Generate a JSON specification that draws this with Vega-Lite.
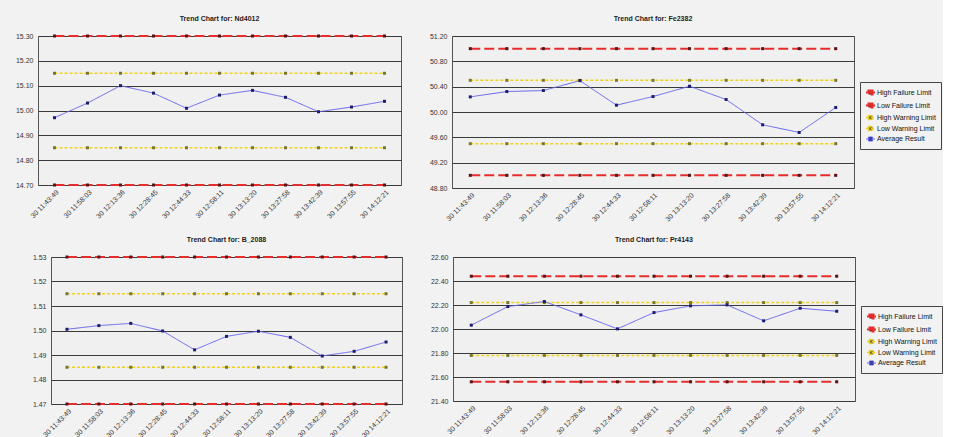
{
  "$schema": "https://vega.github.io/schema/vega-lite/v6.json",
  "background": "#f2f2f2",
  "padding": {"left": 1, "top": 14, "right": 0, "bottom": 0},
  "datasets": {
    "trend": [
      {"chart": "Nd4012", "time": "30 11:43:49", "High Failure Limit": 15.3, "Low Failure Limit": 14.7, "High Warning Limit": 15.15, "Low Warning Limit": 14.85, "Average Result": 14.971},
      {"chart": "Nd4012", "time": "30 11:58:03", "High Failure Limit": 15.3, "Low Failure Limit": 14.7, "High Warning Limit": 15.15, "Low Warning Limit": 14.85, "Average Result": 15.03},
      {"chart": "Nd4012", "time": "30 12:13:36", "High Failure Limit": 15.3, "Low Failure Limit": 14.7, "High Warning Limit": 15.15, "Low Warning Limit": 14.85, "Average Result": 15.1},
      {"chart": "Nd4012", "time": "30 12:28:45", "High Failure Limit": 15.3, "Low Failure Limit": 14.7, "High Warning Limit": 15.15, "Low Warning Limit": 14.85, "Average Result": 15.07},
      {"chart": "Nd4012", "time": "30 12:44:33", "High Failure Limit": 15.3, "Low Failure Limit": 14.7, "High Warning Limit": 15.15, "Low Warning Limit": 14.85, "Average Result": 15.009},
      {"chart": "Nd4012", "time": "30 12:58:11", "High Failure Limit": 15.3, "Low Failure Limit": 14.7, "High Warning Limit": 15.15, "Low Warning Limit": 14.85, "Average Result": 15.062},
      {"chart": "Nd4012", "time": "30 13:13:20", "High Failure Limit": 15.3, "Low Failure Limit": 14.7, "High Warning Limit": 15.15, "Low Warning Limit": 14.85, "Average Result": 15.081},
      {"chart": "Nd4012", "time": "30 13:27:58", "High Failure Limit": 15.3, "Low Failure Limit": 14.7, "High Warning Limit": 15.15, "Low Warning Limit": 14.85, "Average Result": 15.053},
      {"chart": "Nd4012", "time": "30 13:42:39", "High Failure Limit": 15.3, "Low Failure Limit": 14.7, "High Warning Limit": 15.15, "Low Warning Limit": 14.85, "Average Result": 14.995},
      {"chart": "Nd4012", "time": "30 13:57:55", "High Failure Limit": 15.3, "Low Failure Limit": 14.7, "High Warning Limit": 15.15, "Low Warning Limit": 14.85, "Average Result": 15.014},
      {"chart": "Nd4012", "time": "30 14:12:21", "High Failure Limit": 15.3, "Low Failure Limit": 14.7, "High Warning Limit": 15.15, "Low Warning Limit": 14.85, "Average Result": 15.037},
      {"chart": "Fe2382", "time": "30 11:43:49", "High Failure Limit": 51.0, "Low Failure Limit": 49.0, "High Warning Limit": 50.5, "Low Warning Limit": 49.5, "Average Result": 50.239},
      {"chart": "Fe2382", "time": "30 11:58:03", "High Failure Limit": 51.0, "Low Failure Limit": 49.0, "High Warning Limit": 50.5, "Low Warning Limit": 49.5, "Average Result": 50.323},
      {"chart": "Fe2382", "time": "30 12:13:36", "High Failure Limit": 51.0, "Low Failure Limit": 49.0, "High Warning Limit": 50.5, "Low Warning Limit": 49.5, "Average Result": 50.339},
      {"chart": "Fe2382", "time": "30 12:28:45", "High Failure Limit": 51.0, "Low Failure Limit": 49.0, "High Warning Limit": 50.5, "Low Warning Limit": 49.5, "Average Result": 50.495},
      {"chart": "Fe2382", "time": "30 12:44:33", "High Failure Limit": 51.0, "Low Failure Limit": 49.0, "High Warning Limit": 50.5, "Low Warning Limit": 49.5, "Average Result": 50.108},
      {"chart": "Fe2382", "time": "30 12:58:11", "High Failure Limit": 51.0, "Low Failure Limit": 49.0, "High Warning Limit": 50.5, "Low Warning Limit": 49.5, "Average Result": 50.244},
      {"chart": "Fe2382", "time": "30 13:13:20", "High Failure Limit": 51.0, "Low Failure Limit": 49.0, "High Warning Limit": 50.5, "Low Warning Limit": 49.5, "Average Result": 50.407},
      {"chart": "Fe2382", "time": "30 13:27:58", "High Failure Limit": 51.0, "Low Failure Limit": 49.0, "High Warning Limit": 50.5, "Low Warning Limit": 49.5, "Average Result": 50.197},
      {"chart": "Fe2382", "time": "30 13:42:39", "High Failure Limit": 51.0, "Low Failure Limit": 49.0, "High Warning Limit": 50.5, "Low Warning Limit": 49.5, "Average Result": 49.798},
      {"chart": "Fe2382", "time": "30 13:57:55", "High Failure Limit": 51.0, "Low Failure Limit": 49.0, "High Warning Limit": 50.5, "Low Warning Limit": 49.5, "Average Result": 49.677},
      {"chart": "Fe2382", "time": "30 14:12:21", "High Failure Limit": 51.0, "Low Failure Limit": 49.0, "High Warning Limit": 50.5, "Low Warning Limit": 49.5, "Average Result": 50.071},
      {"chart": "B_2088", "time": "30 11:43:49", "High Failure Limit": 1.53, "Low Failure Limit": 1.47, "High Warning Limit": 1.515, "Low Warning Limit": 1.485, "Average Result": 1.5005},
      {"chart": "B_2088", "time": "30 11:58:03", "High Failure Limit": 1.53, "Low Failure Limit": 1.47, "High Warning Limit": 1.515, "Low Warning Limit": 1.485, "Average Result": 1.502},
      {"chart": "B_2088", "time": "30 12:13:36", "High Failure Limit": 1.53, "Low Failure Limit": 1.47, "High Warning Limit": 1.515, "Low Warning Limit": 1.485, "Average Result": 1.5029},
      {"chart": "B_2088", "time": "30 12:28:45", "High Failure Limit": 1.53, "Low Failure Limit": 1.47, "High Warning Limit": 1.515, "Low Warning Limit": 1.485, "Average Result": 1.4998},
      {"chart": "B_2088", "time": "30 12:44:33", "High Failure Limit": 1.53, "Low Failure Limit": 1.47, "High Warning Limit": 1.515, "Low Warning Limit": 1.485, "Average Result": 1.4921},
      {"chart": "B_2088", "time": "30 12:58:11", "High Failure Limit": 1.53, "Low Failure Limit": 1.47, "High Warning Limit": 1.515, "Low Warning Limit": 1.485, "Average Result": 1.4976},
      {"chart": "B_2088", "time": "30 13:13:20", "High Failure Limit": 1.53, "Low Failure Limit": 1.47, "High Warning Limit": 1.515, "Low Warning Limit": 1.485, "Average Result": 1.4997},
      {"chart": "B_2088", "time": "30 13:27:58", "High Failure Limit": 1.53, "Low Failure Limit": 1.47, "High Warning Limit": 1.515, "Low Warning Limit": 1.485, "Average Result": 1.4972},
      {"chart": "B_2088", "time": "30 13:42:39", "High Failure Limit": 1.53, "Low Failure Limit": 1.47, "High Warning Limit": 1.515, "Low Warning Limit": 1.485, "Average Result": 1.4896},
      {"chart": "B_2088", "time": "30 13:57:55", "High Failure Limit": 1.53, "Low Failure Limit": 1.47, "High Warning Limit": 1.515, "Low Warning Limit": 1.485, "Average Result": 1.4915},
      {"chart": "B_2088", "time": "30 14:12:21", "High Failure Limit": 1.53, "Low Failure Limit": 1.47, "High Warning Limit": 1.515, "Low Warning Limit": 1.485, "Average Result": 1.4953},
      {"chart": "Pr4143", "time": "30 11:43:49", "High Failure Limit": 22.44, "Low Failure Limit": 21.56, "High Warning Limit": 22.22, "Low Warning Limit": 21.78, "Average Result": 22.032},
      {"chart": "Pr4143", "time": "30 11:58:03", "High Failure Limit": 22.44, "Low Failure Limit": 21.56, "High Warning Limit": 22.22, "Low Warning Limit": 21.78, "Average Result": 22.187},
      {"chart": "Pr4143", "time": "30 12:13:36", "High Failure Limit": 22.44, "Low Failure Limit": 21.56, "High Warning Limit": 22.22, "Low Warning Limit": 21.78, "Average Result": 22.229},
      {"chart": "Pr4143", "time": "30 12:28:45", "High Failure Limit": 22.44, "Low Failure Limit": 21.56, "High Warning Limit": 22.22, "Low Warning Limit": 21.78, "Average Result": 22.118},
      {"chart": "Pr4143", "time": "30 12:44:33", "High Failure Limit": 22.44, "Low Failure Limit": 21.56, "High Warning Limit": 22.22, "Low Warning Limit": 21.78, "Average Result": 22.001},
      {"chart": "Pr4143", "time": "30 12:58:11", "High Failure Limit": 22.44, "Low Failure Limit": 21.56, "High Warning Limit": 22.22, "Low Warning Limit": 21.78, "Average Result": 22.137},
      {"chart": "Pr4143", "time": "30 13:13:20", "High Failure Limit": 22.44, "Low Failure Limit": 21.56, "High Warning Limit": 22.22, "Low Warning Limit": 21.78, "Average Result": 22.193},
      {"chart": "Pr4143", "time": "30 13:27:58", "High Failure Limit": 22.44, "Low Failure Limit": 21.56, "High Warning Limit": 22.22, "Low Warning Limit": 21.78, "Average Result": 22.201},
      {"chart": "Pr4143", "time": "30 13:42:39", "High Failure Limit": 22.44, "Low Failure Limit": 21.56, "High Warning Limit": 22.22, "Low Warning Limit": 21.78, "Average Result": 22.068},
      {"chart": "Pr4143", "time": "30 13:57:55", "High Failure Limit": 22.44, "Low Failure Limit": 21.56, "High Warning Limit": 22.22, "Low Warning Limit": 21.78, "Average Result": 22.173},
      {"chart": "Pr4143", "time": "30 14:12:21", "High Failure Limit": 22.44, "Low Failure Limit": 21.56, "High Warning Limit": 22.22, "Low Warning Limit": 21.78, "Average Result": 22.148}
    ]
  },
  "resolve": {"scale": {"color": "shared"}, "legend": {"color": "independent", "fill": "independent", "strokeDash": "independent", "strokeWidth": "independent"}},
  "spacing": 12,
  "vconcat": [
    {
      "spacing": 25,
      "resolve": {"scale": {"color": "shared"}, "legend": {"color": "independent", "fill": "independent", "strokeDash": "independent", "strokeWidth": "independent"}},
      "hconcat": [
        {
          "data": {"name": "trend"},
          "title": "Trend Chart for: Nd4012",
          "width": 363, "height": 149,
          "transform": [
            {"filter": "datum.chart === 'Nd4012'"},
            {"fold": ["High Failure Limit", "Low Failure Limit", "High Warning Limit", "Low Warning Limit", "Average Result"], "as": ["series", "value"]}
          ],
          "encoding": {
            "x": {"field": "time", "type": "ordinal", "scale": {"type": "point", "padding": 0.5}, "axis": {"title": null}},
            "y": {"field": "value", "type": "quantitative", "scale": {"domain": [14.7, 15.3], "zero": false, "nice": false}, "axis": {"title": null, "values": [14.7, 14.8, 14.9, 15.0, 15.1, 15.2, 15.3], "format": ".2f", "minExtent": 36, "maxExtent": 36}}
          },
          "layer": [
            {
              "mark": {"type": "line"},
              "encoding": {
                "color": {"field": "series", "type": "nominal", "scale": {"domain": ["High Failure Limit", "Low Failure Limit", "High Warning Limit", "Low Warning Limit", "Average Result"], "range": ["#e52d2d", "#e52d2d", "#f0d21c", "#f0d21c", "#6666ec"]}, "legend": null},
                "strokeDash": {"field": "series", "type": "nominal", "scale": {"domain": ["High Failure Limit", "Low Failure Limit", "High Warning Limit", "Low Warning Limit", "Average Result"], "range": [[10, 4], [10, 4], [3, 2], [3, 2], [1, 0]]}, "legend": null},
                "strokeWidth": {"field": "series", "type": "nominal", "scale": {"type": "ordinal", "domain": ["High Failure Limit", "Low Failure Limit", "High Warning Limit", "Low Warning Limit", "Average Result"], "range": [2, 2, 1.5, 1.5, 1]}, "legend": null}
              }
            },
            {
              "mark": {"type": "square", "size": 9, "opacity": 1},
              "encoding": {
                "fill": {"field": "series", "type": "nominal", "scale": {"domain": ["High Failure Limit", "Low Failure Limit", "High Warning Limit", "Low Warning Limit", "Average Result"], "range": ["#5a1212", "#5a1212", "#77772c", "#77772c", "#1c1c72"]}, "legend": null}
              }
            }
          ]
        },
        {
          "data": {"name": "trend"},
          "title": "Trend Chart for: Fe2382",
          "width": 402, "height": 152,
          "transform": [
            {"filter": "datum.chart === 'Fe2382'"},
            {"fold": ["High Failure Limit", "Low Failure Limit", "High Warning Limit", "Low Warning Limit", "Average Result"], "as": ["series", "value"]}
          ],
          "encoding": {
            "x": {"field": "time", "type": "ordinal", "scale": {"type": "point", "padding": 0.5}, "axis": {"title": null}},
            "y": {"field": "value", "type": "quantitative", "scale": {"domain": [48.8, 51.2], "zero": false, "nice": false}, "axis": {"title": null, "values": [48.8, 49.2, 49.6, 50.0, 50.4, 50.8, 51.2], "format": ".2f", "minExtent": 24, "maxExtent": 24}}
          },
          "layer": [
            {
              "mark": {"type": "line"},
              "encoding": {
                "color": {"field": "series", "type": "nominal", "title": null, "scale": {"domain": ["High Failure Limit", "Low Failure Limit", "High Warning Limit", "Low Warning Limit", "Average Result"], "range": ["#e52d2d", "#e52d2d", "#f0d21c", "#f0d21c", "#6666ec"]},
                  "legend": {"title": null, "legendX": 408, "legendY": 46, "encode": {"symbols": {"update": {"fill": [{"test": "indexof(datum.value, 'Failure') >= 0", "value": "#ee1111"}, {"test": "indexof(datum.value, 'Warning') >= 0", "value": "#f2d000"}, {"value": "#0000ee"}], "opacity": {"value": 1}}}}}},
                "strokeDash": {"field": "series", "type": "nominal", "scale": {"domain": ["High Failure Limit", "Low Failure Limit", "High Warning Limit", "Low Warning Limit", "Average Result"], "range": [[10, 4], [10, 4], [3, 2], [3, 2], [1, 0]]}, "legend": null},
                "strokeWidth": {"field": "series", "type": "nominal", "scale": {"type": "ordinal", "domain": ["High Failure Limit", "Low Failure Limit", "High Warning Limit", "Low Warning Limit", "Average Result"], "range": [2, 2, 1.5, 1.5, 1]}, "legend": null}
              }
            },
            {
              "mark": {"type": "square", "size": 9, "opacity": 1},
              "encoding": {
                "fill": {"field": "series", "type": "nominal", "scale": {"domain": ["High Failure Limit", "Low Failure Limit", "High Warning Limit", "Low Warning Limit", "Average Result"], "range": ["#5a1212", "#5a1212", "#77772c", "#77772c", "#1c1c72"]}, "legend": null}
              }
            }
          ]
        }
      ]
    },
    {
      "spacing": -25,
      "resolve": {"scale": {"color": "shared"}, "legend": {"color": "independent", "fill": "independent", "strokeDash": "independent", "strokeWidth": "independent"}},
      "hconcat": [
        {
          "data": {"values": []},
          "width": 1, "height": 1,
          "view": {"stroke": null, "fill": null},
          "mark": {"type": "point", "opacity": 0},
          "encoding": {}
        },
        {
          "spacing": 25,
          "resolve": {"scale": {"color": "shared"}, "legend": {"color": "independent", "fill": "independent", "strokeDash": "independent", "strokeWidth": "independent"}},
          "hconcat": [
            {
              "data": {"name": "trend"},
              "title": "Trend Chart for: B_2088",
              "width": 351, "height": 147,
              "transform": [
                {"filter": "datum.chart === 'B_2088'"},
                {"fold": ["High Failure Limit", "Low Failure Limit", "High Warning Limit", "Low Warning Limit", "Average Result"], "as": ["series", "value"]}
              ],
              "encoding": {
                "x": {"field": "time", "type": "ordinal", "scale": {"type": "point", "padding": 0.5}, "axis": {"title": null}},
                "y": {"field": "value", "type": "quantitative", "scale": {"domain": [1.47, 1.53], "zero": false, "nice": false}, "axis": {"title": null, "values": [1.47, 1.48, 1.49, 1.5, 1.51, 1.52, 1.53], "format": ".2f", "minExtent": 36, "maxExtent": 36}}
              },
              "layer": [
                {
                  "mark": {"type": "line"},
                  "encoding": {
                    "color": {"field": "series", "type": "nominal", "scale": {"domain": ["High Failure Limit", "Low Failure Limit", "High Warning Limit", "Low Warning Limit", "Average Result"], "range": ["#e52d2d", "#e52d2d", "#f0d21c", "#f0d21c", "#6666ec"]}, "legend": null},
                    "strokeDash": {"field": "series", "type": "nominal", "scale": {"domain": ["High Failure Limit", "Low Failure Limit", "High Warning Limit", "Low Warning Limit", "Average Result"], "range": [[10, 4], [10, 4], [3, 2], [3, 2], [1, 0]]}, "legend": null},
                    "strokeWidth": {"field": "series", "type": "nominal", "scale": {"type": "ordinal", "domain": ["High Failure Limit", "Low Failure Limit", "High Warning Limit", "Low Warning Limit", "Average Result"], "range": [2, 2, 1.5, 1.5, 1]}, "legend": null}
                  }
                },
                {
                  "mark": {"type": "square", "size": 9, "opacity": 1},
                  "encoding": {
                    "fill": {"field": "series", "type": "nominal", "scale": {"domain": ["High Failure Limit", "Low Failure Limit", "High Warning Limit", "Low Warning Limit", "Average Result"], "range": ["#5a1212", "#5a1212", "#77772c", "#77772c", "#1c1c72"]}, "legend": null}
                  }
                }
              ]
            },
            {
              "data": {"name": "trend"},
              "title": "Trend Chart for: Pr4143",
              "width": 402, "height": 144,
              "transform": [
                {"filter": "datum.chart === 'Pr4143'"},
                {"fold": ["High Failure Limit", "Low Failure Limit", "High Warning Limit", "Low Warning Limit", "Average Result"], "as": ["series", "value"]}
              ],
              "encoding": {
                "x": {"field": "time", "type": "ordinal", "scale": {"type": "point", "padding": 0.5}, "axis": {"title": null}},
                "y": {"field": "value", "type": "quantitative", "scale": {"domain": [21.4, 22.6], "zero": false, "nice": false}, "axis": {"title": null, "values": [21.4, 21.6, 21.8, 22.0, 22.2, 22.4, 22.6], "format": ".2f", "minExtent": 24, "maxExtent": 24}}
              },
              "layer": [
                {
                  "mark": {"type": "line"},
                  "encoding": {
                    "color": {"field": "series", "type": "nominal", "title": null, "scale": {"domain": ["High Failure Limit", "Low Failure Limit", "High Warning Limit", "Low Warning Limit", "Average Result"], "range": ["#e52d2d", "#e52d2d", "#f0d21c", "#f0d21c", "#6666ec"]},
                      "legend": {"title": null, "legendX": 408, "legendY": 49, "encode": {"symbols": {"update": {"fill": [{"test": "indexof(datum.value, 'Failure') >= 0", "value": "#ee1111"}, {"test": "indexof(datum.value, 'Warning') >= 0", "value": "#f2d000"}, {"value": "#0000ee"}], "opacity": {"value": 1}}}}}},
                    "strokeDash": {"field": "series", "type": "nominal", "scale": {"domain": ["High Failure Limit", "Low Failure Limit", "High Warning Limit", "Low Warning Limit", "Average Result"], "range": [[10, 4], [10, 4], [3, 2], [3, 2], [1, 0]]}, "legend": null},
                    "strokeWidth": {"field": "series", "type": "nominal", "scale": {"type": "ordinal", "domain": ["High Failure Limit", "Low Failure Limit", "High Warning Limit", "Low Warning Limit", "Average Result"], "range": [2, 2, 1.5, 1.5, 1]}, "legend": null}
                  }
                },
                {
                  "mark": {"type": "square", "size": 9, "opacity": 1},
                  "encoding": {
                    "fill": {"field": "series", "type": "nominal", "scale": {"domain": ["High Failure Limit", "Low Failure Limit", "High Warning Limit", "Low Warning Limit", "Average Result"], "range": ["#5a1212", "#5a1212", "#77772c", "#77772c", "#1c1c72"]}, "legend": null}
                  }
                }
              ]
            }
          ]
        }
      ]
    }
  ],
  "config": {
    "font": "Liberation Sans",
    "view": {"stroke": "#555555", "strokeWidth": 1, "fill": "#f0f0f0"},
    "axis": {"labelFont": "Liberation Sans", "labelFontSize": 7, "labelColor": "#333333", "gridColor": "#3a3a3a", "gridOpacity": 1, "gridWidth": 1, "domain": false, "ticks": false, "labelPadding": 5},
    "axisX": {"grid": false, "labelAngle": -45, "labelPadding": 3},
    "title": {"font": "Liberation Sans", "fontSize": 7, "fontWeight": "bold", "color": "#222222", "offset": 10, "anchor": "middle", "frame": "group"},
    "legend": {"orient": "none", "labelFont": "Liberation Sans", "labelFontSize": 7, "labelColor": "#111111", "strokeColor": "#444444", "fillColor": "#f2f2f2", "padding": 5, "rowPadding": 0, "symbolType": "M-1,0H1M-0.45,-0.45H0.45V0.45H-0.45Z", "symbolSize": 81, "symbolStrokeWidth": 1, "labelOffset": 1, "cornerRadius": 0, "labelLimit": 200}
  }
}
